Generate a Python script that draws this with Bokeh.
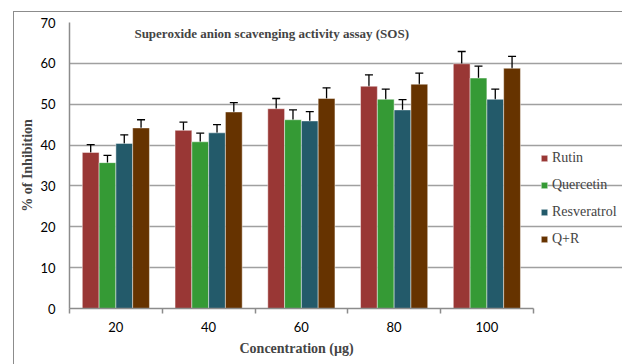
from bokeh.plotting import figure
from bokeh.models import (Range1d, ColumnDataSource, Whisker, TeeHead, Legend, LegendItem,
                          Label, FixedTicker, Title)
from bokeh.embed import file_html
from bokeh.resources import INLINE
import numpy as np

categories = ["20", "40", "60", "80", "100"]
series_names = ["Rutin", "Quercetin", "Resveratrol", "Q+R"]
rutin = [38.2, 43.6, 48.9, 54.4, 59.9]
quercetin = [35.7, 40.8, 46.2, 51.2, 56.4]
resveratrol = [40.4, 43.0, 45.9, 48.6, 51.2]
qr = [44.2, 48.1, 51.4, 54.9, 58.8]
rutin_err = [1.9, 2.0, 2.5, 2.8, 3.0]
quercetin_err = [1.8, 2.1, 2.4, 2.5, 2.9]
resveratrol_err = [2.1, 2.0, 2.3, 2.5, 2.5]
qr_err = [2.0, 2.3, 2.6, 2.7, 2.9]
y_ticks = [0, 10, 20, 30, 40, 50, 60, 70]

colors = ["#993735", "#359a35", "#235a6a", "#663300"]
values = [rutin, quercetin, resveratrol, qr]
errors = [rutin_err, quercetin_err, resveratrol_err, qr_err]

n = len(categories)
# frame extends to the right edge; extra room on the right holds the legend
p = figure(width=609, height=353, x_range=Range1d(0, n * 1.1946), y_range=Range1d(0, 70),
           output_backend="svg", toolbar_location=None,
           min_border_left=55, min_border_right=0, min_border_top=10, min_border_bottom=57)
p.margin = (11, 0, 0, 13)
p.styles = {"border-left": "1px solid #8c8c8c", "border-top": "1px solid #8c8c8c"}
p.outline_line_color = None
p.background_fill_color = "white"
p.border_fill_color = "white"

centers = np.arange(n) + 0.5
bw = 0.181
items = []
for k, (name, vals, errs, col) in enumerate(zip(series_names, values, errors, colors)):
    xs = centers + (k - 1.5) * bw
    v = np.array(vals)
    e = np.array(errs)
    src = ColumnDataSource(dict(x=xs, top=v, upper=v + e, lower=v - e))
    r = p.vbar(x="x", top="top", width=bw, source=src, fill_color=col,
               line_color="white", line_alpha=0.45, line_width=1)
    w = Whisker(source=src, base="x", upper="upper", lower="lower",
                line_color="black", line_width=1.3,
                upper_head=TeeHead(size=8, line_color="black", line_width=1.3),
                lower_head=TeeHead(size=8, line_color="black", line_width=1.3))
    p.add_layout(w)
    items.append(LegendItem(label=name, renderers=[r]))

# axes
p.xaxis.bounds = (0, n)
p.xaxis.ticker = FixedTicker(ticks=list(centers), minor_ticks=list(range(n + 1)))
p.xaxis.major_label_overrides = {float(c): lab for c, lab in zip(centers, categories)}
p.xaxis.major_tick_line_color = None
p.xaxis.major_tick_out = 0
p.xaxis.major_tick_in = 0
p.xaxis.minor_tick_in = 0
p.xaxis.minor_tick_out = 5
p.xaxis.minor_tick_line_color = "#8c8c8c"
p.xaxis.minor_tick_line_width = 1.5
p.xaxis.axis_line_color = "#8c8c8c"
p.xaxis.axis_line_width = 1.5
p.xaxis.major_label_text_font = "Lato"
p.xaxis.major_label_text_font_size = "13px"
p.xaxis.major_label_text_color = "black"
p.xaxis.major_label_standoff = 8

xlabel = Title(text="Concentration (µg)", align="left", offset=170, standoff=8,
               text_font="Liberation Serif", text_font_style="bold", text_font_size="14px")
p.add_layout(xlabel, "below")

p.yaxis.ticker = FixedTicker(ticks=y_ticks)
p.yaxis.major_tick_line_color = None
p.yaxis.major_tick_out = 0
p.yaxis.major_tick_in = 0
p.yaxis.minor_tick_line_color = None
p.yaxis.minor_tick_out = 0
p.yaxis.minor_tick_in = 0
p.yaxis.axis_line_color = "#8c8c8c"
p.yaxis.axis_line_width = 1.5
p.yaxis.major_label_text_font = "Lato"
p.yaxis.major_label_text_font_size = "13px"
p.yaxis.major_label_text_color = "black"
p.yaxis.major_label_standoff = 14
p.yaxis.axis_label = "% of Inhibition"
p.yaxis.axis_label_text_font = "Liberation Serif"
p.yaxis.axis_label_text_font_style = "bold"
p.yaxis.axis_label_text_font_size = "14px"
p.yaxis.axis_label_standoff = 2

p.xgrid.grid_line_color = None
p.ygrid.grid_line_color = "#a0a0a0"
p.ygrid.grid_line_width = 1.5
p.ygrid.bounds = (0, n)

title = Label(x=2.18, y=67.3, text="Superoxide anion scavenging activity assay (SOS)",
              text_font="Liberation Serif", text_font_style="bold", text_font_size="13px",
              text_align="center", text_baseline="middle")
p.add_layout(title)

legend = Legend(items=items, location=(471, 59), glyph_width=8, glyph_height=8,
                label_text_font="Liberation Serif", label_text_font_size="14px",
                label_height=20, spacing=7, padding=0, margin=0, label_standoff=4,
                border_line_color=None, background_fill_alpha=0)
p.add_layout(legend)

open("out.html", "w").write(file_html(p, INLINE))
